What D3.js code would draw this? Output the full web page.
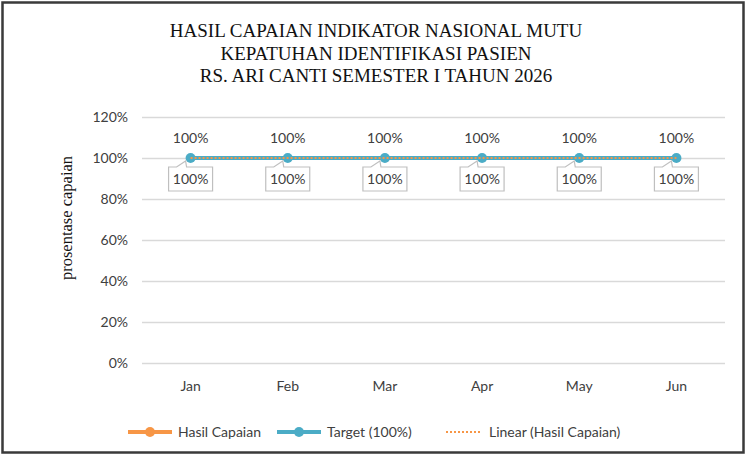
<!DOCTYPE html>
<html>
<head>
<meta charset="utf-8">
<script src="https://cdn.jsdelivr.net/npm/d3@7"></script>
<style>
  body { margin: 0; background: #fff; }
  svg { display: block; }
</style>
</head>
<body>
<svg id="svg_chart" width="747" height="456"></svg>
<script>
// Data
const months = ['Jan', 'Feb', 'Mar', 'Apr', 'May', 'Jun'];
const hasilCapaian = [1, 1, 1, 1, 1, 1];
const target = [1, 1, 1, 1, 1, 1];
const yTicks = [0, 0.2, 0.4, 0.6, 0.8, 1.0, 1.2];
const titleLines = [
    'HASIL CAPAIAN INDIKATOR NASIONAL MUTU',
    'KEPATUHAN IDENTIFIKASI PASIEN',
    'RS. ARI CANTI SEMESTER I TAHUN 2026'
];
const legendItems = ['Hasil Capaian', 'Target (100%)', 'Linear (Hasil Capaian)'];

const orange = '#F79646';
const teal = '#4BACC6';
const sansFont = 'Lato, "Open Sans", sans-serif';
const fontSize = 14;

let svg = d3.select('#svg_chart');

// border
svg.append('rect')
   .attr('x', 2.5).attr('y', 2.5)
   .attr('width', 741).attr('height', 450)
   .attr('fill', '#fff')
   .attr('stroke', '#3a3a3a')
   .attr('stroke-width', 2.5);

// Scales
let xScale = d3.scaleBand()
               .domain(months)
               .range([142, 725]);

let yScale = d3.scaleLinear()
               .domain([0, 1.2])
               .range([363, 117]);

// Title
svg.append('g')
   .selectAll('text')
   .data(titleLines)
   .join('text')
   .attr('x', 376)
   .attr('y', (d, i) => 37 + i * 22.5)
   .attr('text-anchor', 'middle')
   .attr('font-family', '"Liberation Serif", "Times New Roman", serif')
   .attr('font-size', 19)
   .attr('fill', '#111')
   .text(d => d);

// Gridlines + y axis
let yAxis = d3.axisLeft(yScale)
              .tickValues(yTicks)
              .tickFormat(d3.format('.0%'))
              .tickSize(-(725 - 142))
              .tickPadding(14);

let gy = svg.append('g')
            .attr('transform', `translate(142, 0)`)
            .call(yAxis);
gy.select('.domain').remove();
gy.selectAll('.tick line').attr('stroke', '#d9d9d9').attr('stroke-width', 1.3);
gy.selectAll('.tick text')
  .attr('font-family', sansFont)
  .attr('font-size', fontSize)
  .attr('fill', '#404040');

// x axis labels
let xAxis = d3.axisBottom(xScale).tickSize(0).tickPadding(14);
let gx = svg.append('g')
            .attr('transform', `translate(0, 367)`)
            .call(xAxis);
gx.select('.domain').remove();
gx.selectAll('.tick text')
  .attr('font-family', sansFont)
  .attr('font-size', fontSize)
  .attr('fill', '#404040');

// y axis title
svg.append('text')
   .attr('transform', `translate(72, 218) rotate(-90)`)
   .attr('text-anchor', 'middle')
   .attr('font-family', '"Liberation Serif", "Times New Roman", serif')
   .attr('font-size', 16.5)
   .attr('fill', '#111')
   .text('prosentase capaian');

let cx = d => xScale(d) + xScale.bandwidth() / 2;

let line = d3.line()
             .x((d, i) => cx(months[i]))
             .y(d => yScale(d));

// Hasil Capaian series
svg.append('path')
   .datum(hasilCapaian)
   .attr('d', line)
   .attr('fill', 'none')
   .attr('stroke', orange)
   .attr('stroke-width', 4);

// Target series
svg.append('path')
   .datum(target)
   .attr('d', line)
   .attr('fill', 'none')
   .attr('stroke', teal)
   .attr('stroke-width', 4);

svg.append('g')
   .selectAll('circle')
   .data(target)
   .join('circle')
   .attr('cx', (d, i) => cx(months[i]))
   .attr('cy', d => yScale(d))
   .attr('r', 5)
   .attr('fill', teal);

// Linear trend (Hasil Capaian)
svg.append('path')
   .datum(hasilCapaian)
   .attr('d', line)
   .attr('fill', 'none')
   .attr('stroke', orange)
   .attr('stroke-width', 2)
   .attr('stroke-dasharray', '2,2');

// Labels above (Hasil Capaian)
svg.append('g')
   .selectAll('text')
   .data(hasilCapaian)
   .join('text')
   .attr('x', (d, i) => cx(months[i]))
   .attr('y', d => yScale(d) - 15)
   .attr('text-anchor', 'middle')
   .attr('font-family', sansFont)
   .attr('font-size', fontSize)
   .attr('fill', '#404040')
   .text(d => d3.format('.0%')(d));

// Callout labels below (Target)
let callouts = svg.append('g')
                  .selectAll('g')
                  .data(target)
                  .join('g')
                  .attr('transform', (d, i) => `translate(${cx(months[i])}, ${yScale(d)})`);

callouts.append('path')
        .attr('d', 'M-22,9 L-14,9 L-5,3 L-4,9 L22,9 L22,33 L-22,33 Z')
        .attr('fill', '#fff')
        .attr('stroke', '#bfbfbf')
        .attr('stroke-width', 1.2);

callouts.append('text')
        .attr('x', 0)
        .attr('y', 26)
        .attr('text-anchor', 'middle')
        .attr('font-family', sansFont)
        .attr('font-size', fontSize)
        .attr('fill', '#404040')
        .text(d => d3.format('.0%')(d));

// Legend
let legendX = [128, 277, 446];
let legend = svg.append('g')
                .selectAll('g')
                .data(legendItems)
                .join('g')
                .attr('transform', (d, i) => `translate(${legendX[i]}, 432)`);

legend.each(function (d, i) {
    let g = d3.select(this);
    if (i < 2) {
        let c = i === 0 ? orange : teal;
        g.append('line')
         .attr('x1', 0).attr('x2', 44)
         .attr('stroke', c).attr('stroke-width', 4);
        g.append('circle')
         .attr('cx', 22).attr('r', 5).attr('fill', c);
        g.append('text')
         .attr('x', 50).attr('y', 5)
         .attr('font-family', sansFont).attr('font-size', fontSize).attr('fill', '#404040')
         .text(d);
    } else {
        g.append('line')
         .attr('x1', 0).attr('x2', 36)
         .attr('stroke', orange).attr('stroke-width', 2)
         .attr('stroke-dasharray', '2,2');
        g.append('text')
         .attr('x', 43).attr('y', 5)
         .attr('font-family', sansFont).attr('font-size', fontSize).attr('fill', '#404040')
         .text(d);
    }
});
</script>
</body>
</html>
